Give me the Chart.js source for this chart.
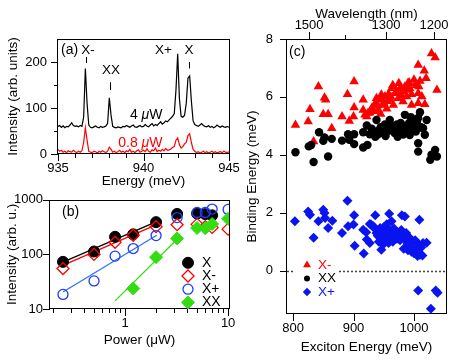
<!DOCTYPE html>
<html><head><meta charset="utf-8">
<script src="https://cdn.jsdelivr.net/npm/chart.js@4.4.1/dist/chart.umd.min.js"></script>
<style>
html,body{margin:0;padding:0;background:#fff;width:463px;height:360px;overflow:hidden;position:relative;}
canvas{position:absolute;}
</style></head><body>
<canvas id="ca" width="250" height="192" style="left:0;top:0"></canvas>
<canvas id="cb" width="250" height="168" style="left:0;top:192px"></canvas>
<canvas id="cc" width="223" height="360" style="left:240px;top:0"></canvas>
<script>
// ---------------- DATA ----------------
// Panel (a): PL spectra
const specE = [935.0,935.1,935.2,935.3,935.4,935.5,935.6,935.7,935.8,935.9,936.0,936.1,936.2,936.3,936.4,936.5,936.6,936.7,936.8,936.9,
937.0,937.1,937.2,937.3,937.4,937.5,937.6,937.7,937.8,937.9,938.0,938.1,938.2,938.3,938.4,938.5,938.6,938.7,938.8,938.9,
939.0,939.1,939.2,939.3,939.4,939.5,939.6,939.7,939.8,939.9,940.0,940.1,940.2,940.3,940.4,940.5,940.6,940.7,940.8,940.9,
941.0,941.1,941.2,941.3,941.4,941.5,941.6,941.7,941.8,941.9,942.0,942.1,942.2,942.3,942.4,942.5,942.6,942.7,942.8,942.9,
943.0,943.1,943.2,943.3,943.4,943.5,943.6,943.7,943.8,943.9,944.0,944.1,944.2,944.3,944.4,944.5,944.6,944.7,944.8,944.9,945.0];
const spec4uW = [60,62,58,61,57,60,59,63,68,62,60,61,59,62,60,80,186,110,63,58,
57,59,61,58,57,60,58,59,61,66,122,85,60,58,57,59,58,57,60,59,
62,60,58,61,63,59,58,60,62,59,60,64,61,59,63,66,61,64,62,66,
70,65,68,72,70,74,78,82,88,140,218,120,82,80,84,110,165,170,115,72,
64,62,60,63,66,62,60,59,62,58,60,57,59,63,60,58,61,59,58,60,58];
const spec08uW = [10,6,8,4,6,3,7,5,4,8,5,3,6,4,7,25,57,30,6,4,
3,6,5,2,6,4,7,5,3,6,15,10,4,6,3,5,8,4,6,3,
7,5,10,4,6,3,7,9,4,6,8,5,11,6,4,9,7,13,5,8,
6,10,7,12,8,9,11,14,16,30,35,20,13,16,22,25,40,44,25,10,
6,3,5,2,4,6,3,5,2,4,6,3,5,2,4,5,3,6,4,3,5];
const specLabels = ['4 μW','0.8 μW'];

// Panel (b): power dependence
const powX  = [0.25,0.5,0.8,1.2,2.0,3.2,5.0,6.0,7.0];
const intX  = [73,113,210,233,390,551,560,546,520];
const powXm = [0.25,0.5,0.8,1.2,2.0,3.2,5.0,6.0,7.0,10];
const intXm = [55,100,167,224,322,350,355,322,312,290];
const powXp = [0.25,0.5,0.8,1.2,2.0,3.2,5.0,6.0,7.0,10];
const intXp = [18.5,32.7,93,128,221,473,585,585,676,667];
const powXX = [1.2,2.0,3.2,5.0,6.0,7.0,10];
const intXX = [23.7,89,196,305,302,360,448];
const fitPowX  = [0.24,2.1],  fitIntX  = [70,410];
const fitPowXm = [0.24,2.1],  fitIntXm = [61,362];
const fitPowXp = [0.25,2.03], fitIntXp = [20.5,224];
const fitPowXX = [0.8,3.25],  fitIntXX = [14.1,196];
const legendB = ['X','X-','X+','XX'];

// Panel (c): binding energies vs exciton energy
const exE_Xm = [804,825,828,834,842,852,854,850,858,864,881,890,893,901,901,900,916,916,922,919,924,930,936,941,945,944,946,949,952,955,
958,960,963,966,969,974,975,977,982,982,988,988,990,993,996,996,1000,1003,1007,1007,1008,1007,1013,1017,1018,1020,1029,1035,1038,
934,938,950,956,962,971,979,985,1010,1004,927,940,992,965];
const be_Xm  = [5.03,5.15,5.57,4.46,6.36,5.97,5.90,5.40,5.40,4.92,5.32,6.09,5.17,6.53,5.63,5.32,5.90,5.55,5.32,5.38,5.44,5.61,5.78,5.55,5.41,5.90,6.07,5.72,6.01,5.59,
6.09,5.90,6.30,5.72,6.13,5.95,6.47,6.30,6.18,5.84,6.01,6.24,6.47,6.30,6.09,5.72,6.59,6.45,6.13,5.78,6.36,7.10,6.01,6.90,5.75,6.64,7.50,7.36,6.24,
5.50,5.95,5.80,5.85,6.00,6.20,6.05,6.35,6.55,6.40,5.45,5.70,6.50,6.40];
const exE_XX = [804,834,826,830,843,852,850,864,858,881,891,893,901,901,916,922,916,923,927,938,930,935,940,942,945,948,950,952,955,958,
960,962,965,968,970,972,975,978,980,982,985,987,990,992,995,997,1000,1003,1005,1010,1007,1012,1015,1018,1021,1007,1007,1035,1029,1038,1027,
936,953,973,993];
const be_XX  = [4.09,3.75,4.29,4.34,4.78,4.60,4.48,4.55,3.94,4.49,4.71,4.52,4.71,4.37,4.78,5.01,4.25,4.34,4.71,5.20,4.90,4.80,4.70,4.85,4.95,4.75,4.90,5.05,4.80,4.90,
5.20,4.85,5.00,4.75,4.90,5.05,4.85,5.10,4.95,4.70,5.38,5.00,4.85,5.10,5.30,4.90,5.00,4.80,5.15,5.47,5.27,4.95,4.92,4.69,5.20,4.40,4.11,4.17,4.00,3.94,3.83,
4.62,4.65,4.62,4.68];
const exE_Xp = [803,825,828,834,842,850,852,853,858,865,881,890,891,901,900,902,916,917,921,922,927,929,936,927,933,944,946,959,963,980,985,1009,
1007,1036,1039,1028,1021,1014,
935,938,940,942,943,945,947,949,950,952,954,955,957,958,960,962,964,965,967,969,970,972,975,977,979,981,983,985,987,989,990,992,994,996,998,1000,1002,1004,1006,1008,1010,1012,1015];
const be_Xp  = [1.70,2.04,1.93,1.13,1.70,2.10,1.99,1.82,1.47,1.72,1.30,2.41,1.53,1.91,1.59,0.86,1.41,0.59,1.32,1.07,0.95,1.59,1.91,1.61,1.53,1.47,0.72,1.96,1.70,1.91,1.87,1.76,
-0.69,-0.69,-0.77,-1.32,0.96,0.52,
1.45,1.30,1.20,1.00,1.40,1.10,1.35,0.90,1.50,1.20,1.05,1.60,1.25,0.95,1.40,1.15,1.30,1.00,1.45,1.20,1.35,1.10,1.25,1.05,1.40,1.20,0.75,1.10,1.30,0.95,0.70,1.15,0.85,0.65,1.00,0.60,1.05,0.75,0.50,0.90,0.55,0.80,0.95];
const legendC = ['X-','XX','X+'];
const wlMajor = [1500,1300,1200];
const wlMinor = [1400];

// tick lists
const aXMajor=[935,940,945], aXMinor=[936,937,938,939,941,942,943,944];
const aYMajor=[0,100,200],   aYMinor=[50,150];
const bXMajor=[1,10], bXMinor=[0.2,0.3,0.4,0.5,0.6,0.7,0.8,0.9,2,3,4,5,6,7,8,9];
const bYMajor=[10,100,1000], bYMinor=[];
const cXMajor=[800,900,1000], cXMinor=[];
const cYMajor=[0,2,4,6,8], cYMinor=[];

// ---------------- HELPERS ----------------
const HC = 1239841.98; // meV*nm
const FONT = "'Liberation Sans', Arial, Helvetica, sans-serif";
Chart.defaults.font.family = FONT;
Chart.defaults.color = '#000';
const pts = (xs, ys) => xs.map((x,i)=>({x, y: ys[i]}));

function marker(ctx, style, x, y, r, fill, stroke, lw){
  ctx.beginPath();
  if(style==='circle') ctx.arc(x,y,r,0,Math.PI*2);
  else if(style==='triangle'){ ctx.moveTo(x,y-r); ctx.lineTo(x+r*0.866,y+r/2); ctx.lineTo(x-r*0.866,y+r/2); ctx.closePath(); }
  else { ctx.moveTo(x-r,y); ctx.lineTo(x,y-r); ctx.lineTo(x+r,y); ctx.lineTo(x,y+r); ctx.closePath(); }
  if(fill && fill!=='transparent'){ ctx.fillStyle=fill; ctx.fill(); }
  if(stroke && lw){ ctx.strokeStyle=stroke; ctx.lineWidth=lw; ctx.stroke(); }
}
function rich(ctx, segs, x, y, align, size, color){
  ctx.save(); ctx.fillStyle=color; ctx.textBaseline='middle';
  let w=0; segs.forEach(s=>{ ctx.font=(s.i?'italic ':'')+size+'px '+FONT; w+=ctx.measureText(s.t).width; });
  let cx = align==='right'? x-w : align==='center'? x-w/2 : x;
  ctx.textAlign='left';
  segs.forEach(s=>{ ctx.font=(s.i?'italic ':'')+size+'px '+FONT; ctx.fillText(s.t,cx,y); cx+=ctx.measureText(s.t).width; });
  ctx.restore();
}
function makeDecor(cfg){
  return {
    id:'decor'+Math.random().toString(36).slice(2),
    beforeDatasetsDraw(chart){ if(cfg.before) cfg.before(chart); },
    afterDatasetsDraw(chart){
      const ctx=chart.ctx, ca=chart.chartArea;
      ctx.save();
      ctx.strokeStyle='#000'; ctx.lineWidth=1;
      ctx.strokeRect(Math.round(ca.left)-0.5, Math.round(ca.top)+0.5, Math.round(ca.right-ca.left)+1, Math.round(ca.bottom-ca.top)-1);
      cfg.ticks.forEach(t=>{
        const s=chart.scales[t.axis];
        const draw=(v,len)=>{
          const p=Math.round(s.getPixelForValue(t.conv?t.conv(v):v))+0.5;
          ctx.beginPath();
          if(t.side==='bottom'){ctx.moveTo(p,ca.bottom);ctx.lineTo(p,ca.bottom+len);}
          else if(t.side==='top'){ctx.moveTo(p,ca.top);ctx.lineTo(p,ca.top-len);}
          else {ctx.moveTo(ca.left,p);ctx.lineTo(ca.left-len,p);}
          ctx.stroke();
        };
        t.major.forEach(v=>draw(v,7)); t.minor.forEach(v=>draw(v,4));
      });
      ctx.restore();
      if(cfg.after) cfg.after(chart);
    }
  };
}
function axisCommon(extra){
  return Object.assign({
    grid:{display:true, drawOnChartArea:false, color:'rgba(0,0,0,0)', tickLength:7},
    border:{display:false},
  }, extra);
}
const tickFont={size:13}, titleFont={size:13.5};

// ---------------- PANEL (a) ----------------
new Chart(document.getElementById('ca'), {
  type:'line',
  data:{datasets:[
    {label:specLabels[0], data:pts(specE,spec4uW), borderColor:'#000', borderWidth:1.2, pointRadius:0, tension:0},
    {label:specLabels[1], data:pts(specE,spec08uW), borderColor:'#ff0000', borderWidth:1.2, pointRadius:0, tension:0}
  ]},
  options:{
    responsive:false, animation:false, devicePixelRatio:1,
    layout:{padding:{top:39,right:21,left:0,bottom:0}},
    plugins:{legend:{display:false}, tooltip:{enabled:false}},
    scales:{
      x:axisCommon({type:'linear', min:935, max:945,
        afterBuildTicks:s=>{s.ticks=aXMajor.map(v=>({value:v}));},
        afterFit:s=>{s.height=38;},
        ticks:{padding:0, font:tickFont, maxRotation:0, autoSkip:false, callback:v=>String(v)},
        title:{display:true, text:'Energy (meV)', font:titleFont, padding:{top:0,bottom:3}}}),
      y:axisCommon({type:'linear', min:0, max:250,
        afterBuildTicks:s=>{s.ticks=aYMajor.map(v=>({value:v}));},
        afterFit:s=>{s.width=58;},
        ticks:{padding:4, font:tickFont, callback:v=>String(v)},
        title:{display:true, text:'Intensity (arb. units)', font:titleFont, padding:{top:5,bottom:0}}})
    }
  },
  plugins:[makeDecor({
    ticks:[{axis:'x',side:'bottom',major:aXMajor,minor:aXMinor},{axis:'y',side:'left',major:aYMajor,minor:aYMinor}],
    after(chart){
      const ctx=chart.ctx, sx=chart.scales.x, sy=chart.scales.y, ca=chart.chartArea;
      ctx.save();
      ctx.fillStyle='#000'; ctx.textBaseline='middle'; ctx.font='14px '+FONT; ctx.textAlign='left';
      ctx.fillText('(a)', ca.left+3, sy.getPixelForValue(226));
      ctx.font='13.5px '+FONT;
      const peaks=[{t:'X-',e:936.62,v:226,dx:-4.5,b:[211,198]},{t:'XX',e:938.04,v:183,dx:-8,b:[156,139]},
                   {t:'X+',e:941.17,v:226,dx:-8.5,b:null},{t:'X',e:942.66,v:226,dx:-4.5,b:[200,186]}];
      peaks.forEach(p=>{
        const x=sx.getPixelForValue(p.e);
        ctx.fillText(p.t, x+p.dx, sy.getPixelForValue(p.v));
        if(p.b){ ctx.strokeStyle='#000'; ctx.lineWidth=1; ctx.beginPath();
          ctx.moveTo(Math.round(x)+0.5, sy.getPixelForValue(p.b[0])); ctx.lineTo(Math.round(x)+0.5, sy.getPixelForValue(p.b[1])); ctx.stroke(); }
      });
      const xr=sx.getPixelForValue(941.11);
      rich(ctx,[{t:'4 '},{t:'μ',i:true},{t:'W'}], xr, sy.getPixelForValue(85),'right',14,'#000');
      rich(ctx,[{t:'0.8 '},{t:'μ',i:true},{t:'W'}], xr, sy.getPixelForValue(24),'right',14,'#ff0000');
      ctx.restore();
    }
  })]
});

// ---------------- PANEL (b) ----------------
const colB = {X:'#000000', Xm:'#ff0000', Xp:'#1a3cff', XX:'#33dd11'};
const dsB = [
  {label:legendB[0], data:pts(powX,intX), pointStyle:'circle', pointRadius:5.5, backgroundColor:colB.X, borderColor:colB.X, borderWidth:1, showLine:false, order:3},
  {label:legendB[1], data:pts(powXm,intXm), pointStyle:'rectRot', pointRadius:6, backgroundColor:'transparent', borderColor:colB.Xm, borderWidth:1.3, showLine:false, order:2},
  {label:legendB[2], data:pts(powXp,intXp), pointStyle:'circle', pointRadius:5, backgroundColor:'transparent', borderColor:colB.Xp, borderWidth:1.3, showLine:false, order:1},
  {label:legendB[3], data:pts(powXX,intXX), pointStyle:'rectRot', pointRadius:6.5, backgroundColor:colB.XX, borderColor:colB.XX, borderWidth:1, showLine:false, order:0},
  {label:'fitX', data:pts(fitPowX,fitIntX), showLine:true, pointRadius:0, borderColor:colB.X, borderWidth:1.3, order:10},
  {label:'fitXm', data:pts(fitPowXm,fitIntXm), showLine:true, pointRadius:0, borderColor:colB.Xm, borderWidth:1.3, order:10},
  {label:'fitXp', data:pts(fitPowXp,fitIntXp), showLine:true, pointRadius:0, borderColor:'#3070ff', borderWidth:1.3, order:10},
  {label:'fitXX', data:pts(fitPowXX,fitIntXX), showLine:true, pointRadius:0, borderColor:colB.XX, borderWidth:1.3, order:10}
];
new Chart(document.getElementById('cb'), {
  type:'scatter',
  data:{datasets:dsB},
  options:{
    responsive:false, animation:false, devicePixelRatio:1,
    layout:{padding:{top:1,right:21,left:0,bottom:0}},
    plugins:{legend:{display:false}, tooltip:{enabled:false}},
    scales:{
      x:axisCommon({type:'logarithmic', min:0.187, max:10.2,
        afterBuildTicks:s=>{s.ticks=bXMajor.map(v=>({value:v}));},
        afterFit:s=>{s.height=51;},
        ticks:{padding:0, font:tickFont, maxRotation:0, autoSkip:false, callback:v=>String(v)},
        title:{display:true, text:'Power (μW)', font:titleFont, padding:{top:0,bottom:12}}}),
      y:axisCommon({type:'logarithmic', min:10, max:1000,
        afterBuildTicks:s=>{s.ticks=bYMajor.map(v=>({value:v}));},
        afterFit:s=>{s.width=50;},
        ticks:{padding:0, font:tickFont, callback:v=>String(v)},
        title:{display:true, text:'Intensity (arb. u.)', font:titleFont, padding:{top:4,bottom:0}}})
    }
  },
  plugins:[makeDecor({
    ticks:[{axis:'x',side:'bottom',major:bXMajor,minor:bXMinor},{axis:'y',side:'left',major:bYMajor,minor:bYMinor}],
    after(chart){
      const ctx=chart.ctx, ca=chart.chartArea;
      ctx.save();
      ctx.fillStyle='#000'; ctx.textBaseline='middle'; ctx.textAlign='left'; ctx.font='14px '+FONT;
      ctx.fillText('(b)', ca.left+12, ca.top+12);
      for(let i=0;i<4;i++){
        const d=chart.data.datasets[i];
        const y=ca.top+63+i*13.2, x=ca.left+138;
        marker(ctx,d.pointStyle,x,y,d.pointRadius,d.backgroundColor,d.borderColor,d.borderWidth);
        ctx.fillStyle='#000'; ctx.font='14px '+FONT; ctx.fillText(d.label, ca.left+152, y);
      }
      ctx.restore();
    }
  })]
});

// ---------------- PANEL (c) ----------------
const colC = {Xm:'#ff0000', XX:'#000000', Xp:'#0a14f0'};
const dsC = [
  {label:legendC[0], data:pts(exE_Xm,be_Xm), pointStyle:'triangle', pointRadius:5.5, backgroundColor:colC.Xm, borderColor:colC.Xm, borderWidth:0, order:1},
  {label:legendC[1], data:pts(exE_XX,be_XX), pointStyle:'circle', pointRadius:4.2, backgroundColor:colC.XX, borderColor:colC.XX, borderWidth:0, order:0},
  {label:legendC[2], data:pts(exE_Xp,be_Xp), pointStyle:'rectRot', pointRadius:5, backgroundColor:colC.Xp, borderColor:colC.Xp, borderWidth:0, order:2}
];
new Chart(document.getElementById('cc'), {
  type:'scatter',
  data:{datasets:dsC},
  options:{
    responsive:false, animation:false, devicePixelRatio:1,
    layout:{padding:{top:0,right:17,left:0,bottom:0}},
    plugins:{legend:{display:false}, tooltip:{enabled:false}},
    scales:{
      x:axisCommon({type:'linear', position:'bottom', min:790, max:1053,
        afterBuildTicks:s=>{s.ticks=cXMajor.map(v=>({value:v}));},
        afterFit:s=>{s.height=46;},
        ticks:{padding:0, font:tickFont, maxRotation:0, autoSkip:false, callback:v=>String(v)},
        title:{display:true, text:'Exciton Energy (meV)', font:titleFont, padding:{top:0,bottom:5}}}),
      x2:axisCommon({type:'linear', position:'top', min:790, max:1053,
        afterBuildTicks:s=>{s.ticks=wlMajor.map(l=>({value:HC/l}));},
        afterFit:s=>{s.height=39;},
        ticks:{padding:-1, font:tickFont, maxRotation:0, autoSkip:false, callback:(v,i)=>String(wlMajor[i])},
        title:{display:true, text:'Wavelength (nm)', font:titleFont, padding:{top:6,bottom:0}}}),
      y:axisCommon({type:'linear', min:-1.5, max:8,
        afterBuildTicks:s=>{s.ticks=cYMajor.map(v=>({value:v}));},
        afterFit:s=>{s.width=47;},
        ticks:{padding:7, font:tickFont, callback:v=>String(v)},
        title:{display:true, text:'Binding Energy (meV)', font:titleFont, padding:{top:4,bottom:0}}})
    }
  },
  plugins:[makeDecor({
    ticks:[{axis:'x',side:'bottom',major:cXMajor,minor:cXMinor},{axis:'y',side:'left',major:cYMajor,minor:cYMinor},
           {axis:'x',side:'top',major:wlMajor,minor:wlMinor,conv:l=>HC/l}],
    before(chart){
      const ctx=chart.ctx, ca=chart.chartArea, y=Math.round(chart.scales.y.getPixelForValue(0))+0.5;
      ctx.save(); ctx.strokeStyle='#444'; ctx.lineWidth=1.5; ctx.setLineDash([2,2]);
      ctx.beginPath(); ctx.moveTo(ca.left,y); ctx.lineTo(ca.right,y); ctx.stroke(); ctx.restore();
    },
    after(chart){
      const ctx=chart.ctx, ca=chart.chartArea;
      ctx.save();
      ctx.fillStyle='#000'; ctx.textBaseline='middle'; ctx.textAlign='left'; ctx.font='14px '+FONT;
      ctx.fillText('(c)', ca.left+2, ca.top+13);
      ctx.fillStyle='#fff'; ctx.fillRect(ca.left+6, ca.top+218, 45, 43);
      const lr=[3.6,3,4.2];
      for(let i=0;i<3;i++){
        const d=chart.data.datasets[i];
        const y=ca.top+226+i*13.5, x=ca.left+20;
        marker(ctx,d.pointStyle,x,y,lr[i]+ (i===0?1:0),d.backgroundColor,null,0);
        ctx.fillStyle=d.backgroundColor; ctx.font='13.5px '+FONT; ctx.fillText(d.label, ca.left+31, y);
      }
      ctx.restore();
    }
  })]
});
</script>
</body></html>
